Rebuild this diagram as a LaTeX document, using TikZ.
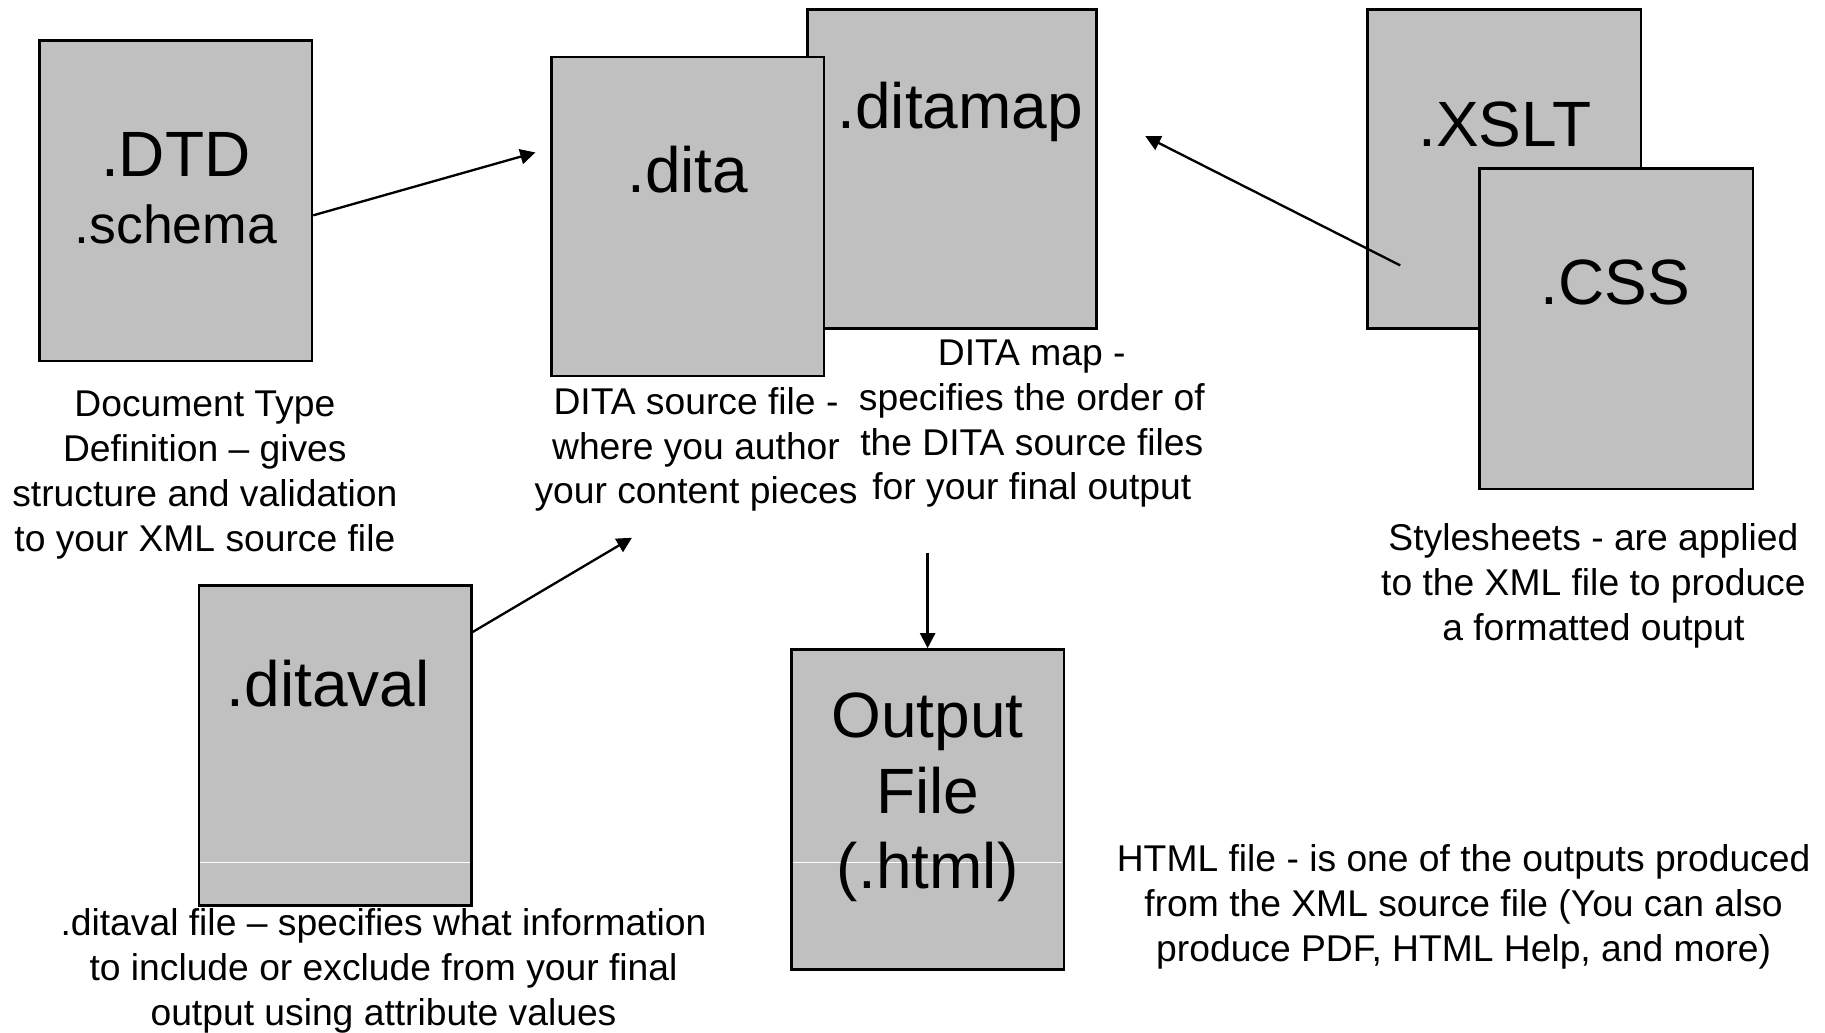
\documentclass[tikz,border=0pt]{standalone}
\usepackage{fontspec}
\setmainfont{Liberation Sans}
\usetikzlibrary{arrows.meta}
\definecolor{filegray}{RGB}{192,192,192}
\newcommand\stacklines[1]{\begin{tabular}[t]{@{}c@{}}#1\end{tabular}}
\tikzset{
  filebox/.style={rectangle, draw=black, fill=filegray, line width=2.2pt, inner sep=0pt},
  bigtext/.style={anchor=base, inner sep=0pt, font=\fontsize{55}{64.5}\selectfont},
  midtext/.style={anchor=base, inner sep=0pt, font=\fontsize{46}{55}\selectfont},
  note/.style={anchor=base, inner sep=0pt, font=\fontsize{32}{38.5}\selectfont},
  flow/.style={line width=2pt, -{Triangle[length=13pt,width=13pt]}},
  seam/.style={white, line width=1pt},
}
\begin{document}
\begin{tikzpicture}[x=1pt, y=-1pt]
  \fill[white] (0,0) rectangle (1568,887);
  \useasboundingbox (0,0) rectangle (1568,887);

  % file boxes (back to front)
  \node[filebox, minimum width=234pt, minimum height=275pt] (dtd) at (151,172.5) {};
  \node[filebox, minimum width=248pt, minimum height=274pt] (ditamap) at (818,145) {};
  \node[filebox, minimum width=234pt, minimum height=274pt] (dita) at (591,186) {};
  \node[filebox, minimum width=235pt, minimum height=274pt] (xslt) at (1292.5,145) {};
  \node[filebox, minimum width=235pt, minimum height=275pt] (css) at (1388.5,282.5) {};
  \node[filebox, minimum width=234pt, minimum height=275pt] (ditaval) at (288,640.5) {};
  \node[filebox, minimum width=234pt, minimum height=275pt] (output) at (797,695.5) {};

  % thin light seams across the lower boxes
  \draw[seam] (172.2,741) -- (403.8,741);
  \draw[seam] (681.2,741) -- (912.8,741);

  % file names
  \node[bigtext] (dtdname) at (151,152) {.DTD};
  \node[midtext] (schemaname) at (151,209) {.schema};
  \node[bigtext] (ditaname) at (591,165) {.dita};
  \node[bigtext] (mapname) at (825,110) {.ditamap};
  \node[bigtext] (xsltname) at (1293,126) {.XSLT};
  \node[bigtext] (cssname) at (1388,262) {.CSS};
  \node[bigtext] (valname) at (282,607) {.ditaval};
  \node[bigtext] (outname) at (797,634) {\stacklines{Output\\File\\(.html)}};

  % descriptions
  \node[note] (dtdnote) at (176,358) {\stacklines{Document Type\\Definition – gives\\structure and validation\\to your XML source file}};
  \node[note] (ditanote) at (598,356) {\stacklines{DITA source file -\\where you author\\your content pieces}};
  \node[note] (mapnote) at (886.5,314) {\stacklines{DITA map -\\specifies the order of\\the DITA source files\\for your final output}};
  \node[note] (stylenote) at (1369,473) {\stacklines{Stylesheets - are applied\\to the XML file to produce\\a formatted output}};
  \node[note] (valnote) at (329.5,804) {\stacklines{.ditaval file – specifies what information\\to include or exclude from your final\\output using attribute values}};
  \node[note] (htmlnote) at (1257.5,749) {\stacklines{HTML file - is one of the outputs produced\\from the XML source file (You can also\\produce PDF, HTML Help, and more)}};

  % arrow end points
  \coordinate (ditain) at (460,131);
  \coordinate (ditalow) at (543,462);
  \coordinate (xsltout) at (1203,228);
  \coordinate (mapin) at (984,117);
  \coordinate (mapout) at (797,475);

  % connectors
  \draw[flow] ([yshift=-12.5pt]dtd.east) -- (ditain);
  \draw[flow] ([yshift=97.5pt]ditaval.east) -- (ditalow);
  \draw[flow] (xsltout) -- (mapin);
  \draw[flow] (mapout) -- (output.north);
\end{tikzpicture}
\end{document}
